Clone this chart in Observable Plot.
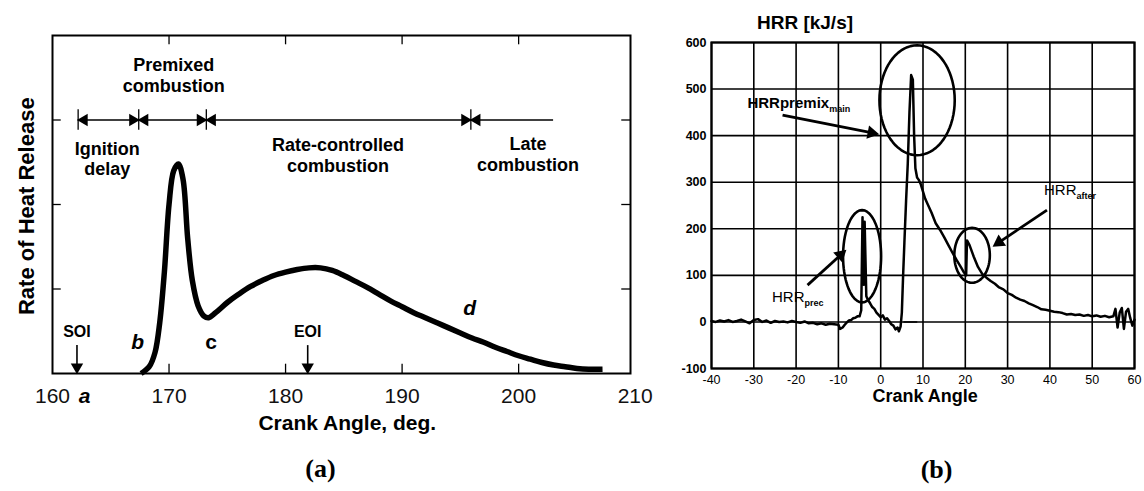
<!DOCTYPE html>
<html><head><meta charset="utf-8">
<script src="https://cdn.jsdelivr.net/npm/d3@7"></script>
<script src="https://cdn.jsdelivr.net/npm/@observablehq/plot@0.6"></script>
<style>
body{margin:0;background:#fff;width:1144px;height:491px;overflow:hidden;position:relative;font-family:"Liberation Sans",Arial,sans-serif}
#a{position:absolute;left:0;top:0}
#b{position:absolute;left:660px;top:0}
svg{overflow:visible}
</style></head><body><div id="a"></div><div id="b"></div>
<script>
// ---------- Panel (a): schematic rate of heat release ----------
const aAngle = [167.6,168.3,168.8,169.2,169.6,170.0,170.4,170.8,171.2,171.6,172.0,172.5,173.0,173.4,174.0,175.0,176.0,177.0,178.0,179.0,180.0,181.0,182.0,183.0,184.0,185.0,186.0,187.0,188.0,189.0,190.0,191.0,192.0,193.0,194.0,195.0,196.0,197.0,198.0,199.0,200.0,201.0,202.0,203.0,204.0,205.0,206.0,207.2];
const aRate  = [0.0,0.08,0.25,0.6,1.2,2.0,2.4,2.48,2.3,1.6,1.1,0.8,0.68,0.66,0.72,0.84,0.94,1.03,1.1,1.16,1.2,1.23,1.25,1.25,1.22,1.16,1.09,1.02,0.94,0.86,0.79,0.72,0.66,0.6,0.54,0.48,0.42,0.37,0.31,0.26,0.21,0.17,0.13,0.1,0.08,0.06,0.05,0.05];
const aTickLabels = [160,170,180,190,200,210];
const aInnerTicksX = [170,180,190,200];
const aInnerTicksY = [1,2,3];
const phaseBars = [162.2,167.4,173.2,195.9];
const phaseRowLevel = 3;
const phaseRowEnd = 203.0;
const phaseLeftHeads = [162.2,167.4,173.2,195.9];
const phaseRightHeads = [167.4,173.2,195.9];
const phaseNames = ["Premixed\ncombustion","Ignition\ndelay","Rate-controlled\ncombustion","Late\ncombustion"];
const phaseNameX = [170.4,164.7,184.5,200.8];
const phaseNameY = [3.53,2.545,2.585,2.6];
const injNames = ["SOI","EOI"];
const injAngle = [162.1,181.9];
const pointNames = ["b","d"];
const pointX = [167.3,195.8];
const pointY = [0.37,0.77];

// ---------- Panel (b): measured HRR ----------
const bAngle = [-40,-39,-38,-37,-36,-35,-34,-33,-32,-31,-30,-29,-28,-27,-26,-25,-24,-23,-22,-21,-20,-19,-18,-17,-16,-15,-14,-13,-12,-11,-10,-9.6,-9.0,-8.5,-8.0,-7.5,-7.0,-6.5,-6.0,-5.5,-5.0,-4.6,-4.3,-4.0,-3.8,-3.4,-3.0,-2.5,-2.0,-1.5,-1.0,-0.5,0.0,0.5,1.0,1.5,2.0,2.5,3.0,3.5,4.0,4.3,4.7,5.0,5.3,5.6,6.0,6.4,6.8,7.2,7.6,7.9,8.2,8.6,9.0,9.5,10.0,10.5,11.0,12.0,13.0,14.0,15.0,16.0,17.0,18.0,19.0,19.7,20.2,20.4,21.0,22.0,23.0,24.0,25.0,26.0,27.0,28.0,29.0,30.0,31.0,32.0,33.0,34.0,35.0,36.0,37.0,38.0,39.0,40.0,41.0,42.0,43.0,44.0,45.0,46.0,47.0,48.0,49.0,50.0,51.0,52.0,53.0,54.0,55.0,55.5,56.0,56.5,57.0,57.5,58.0,58.5,59.0,59.5,60.0];
const bHRR = [2,0,3,1,4,0,2,5,1,-3,4,6,0,3,-2,2,0,1,-1,2,0,-2,1,-3,-2,-5,-3,-6,-4,-5,-6,-15,-12,-6,-1,3,4,8,9,12,12,25,225,80,215,55,47,40,32,28,20,15,10,14,5,8,2,-5,-8,-16,-12,-20,-10,20,100,170,260,340,450,530,520,400,330,310,305,295,280,265,255,235,212,198,182,165,148,132,117,106,100,175,165,140,118,103,95,88,82,74,70,62,58,52,48,45,40,36,32,27,26,24,22,21,19,16,17,15,16,13,15,12,14,11,13,10,12,28,-12,20,30,-15,22,28,8,-8,5];
const bBaseAngle = [5.5,8.5];
const bBaseHRR = [0,0];
const bTicksX = [-40,-30,-20,-10,0,10,20,30,40,50,60];
const bTicksY = [-100,0,100,200,300,400,500,600];
const ringCx = [8.6,-4.4,21.6];
const ringCy = [476,141,143];
const ringRx = [8.9,4.5,4.2];
const ringRy = [118,99,59];
const pointerFromX = [-23.2,-17.3,39.3];
const pointerFromY = [444,79,240];
const pointerToX = [-1.0,-8.6,27.0];
const pointerToY = [404,151,165];
const hrrNames = ["HRRpremix","HRR","HRR"];
const hrrSubs = ["main","prec","after"];
const hrrX = [-31.5,-25.7,38.6];
const hrrY = [469,54,283];

const FONT = '"Liberation Sans", Arial, Helvetica, sans-serif';
const SERIF = '"Liberation Serif", "Times New Roman", serif';

// ----- build panel (a)
const curveA = aAngle.map((x,i)=>({x, y:aRate[i]}));
const plotA = Plot.plot({
  width:660, height:491, marginLeft:52, marginRight:30, marginTop:35, marginBottom:118,
  x:{domain:[160,209.6], axis:null},
  y:{domain:[0,4], axis:null},
  style:{fontFamily:FONT, background:"white", color:"black", overflow:"visible"},
  marks:[
    Plot.frame({stroke:"black", strokeWidth:2}),
    Plot.ruleX(aInnerTicksX, {y1:0, y2:0.11, stroke:"black", strokeWidth:1.3}),
    Plot.ruleX(aInnerTicksX, {y1:3.89, y2:4, stroke:"black", strokeWidth:1.3}),
    Plot.ruleY(aInnerTicksY, {x1:160, x2:160.75, stroke:"black", strokeWidth:1.3}),
    Plot.ruleY(aInnerTicksY, {x1:208.85, x2:209.6, stroke:"black", strokeWidth:1.3}),
    Plot.text(aTickLabels, {x:d=>d, y:0, dy:23, text:d=>String(d), fontSize:21, fill:"#111"}),
    Plot.text(["a"], {x:[162.75], y:[0], dy:23, text:d=>d, fontSize:21, fontWeight:"bold", fontStyle:"italic"}),
    Plot.text(["Crank Angle, deg."], {x:[185.3], y:[-0.59], text:d=>d, fontSize:21, fontWeight:"bold"}),
    Plot.text(["(a)"], {x:[183], y:[-1.13], text:d=>d, fontSize:26, fontWeight:"bold", fontFamily:SERIF}),
    Plot.text(["Rate of Heat Release"], {x:[157.85], y:[1.98], text:d=>d, rotate:-90, fontSize:22, fontWeight:"bold"}),
    // phase row
    Plot.ruleY([phaseRowLevel], {x1:phaseBars[0], x2:phaseRowEnd, stroke:"black", strokeWidth:1.3}),
    Plot.ruleX(phaseBars, {y1:phaseRowLevel-0.12, y2:phaseRowLevel+0.12, stroke:"black", strokeWidth:1.3}),
    Plot.dot(phaseLeftHeads, {x:d=>d, y:phaseRowLevel, symbol:"triangle", rotate:-90, r:4.6, fill:"black", stroke:"none", dx:6}),
    Plot.dot(phaseRightHeads, {x:d=>d, y:phaseRowLevel, symbol:"triangle", rotate:90, r:4.6, fill:"black", stroke:"none", dx:-6}),
    Plot.text(phaseNames, {x:(d,i)=>phaseNameX[i], y:(d,i)=>phaseNameY[i], text:d=>d, fontSize:18, fontWeight:"bold", lineHeight:1.15}),
    // injection markers
    Plot.ruleX(injAngle, {y1:0.06, y2:0.33, stroke:"black", strokeWidth:1.6}),
    Plot.dot(injAngle, {x:d=>d, y:0.075, symbol:"triangle", rotate:180, r:4.6, fill:"black", stroke:"none"}),
    Plot.text(injNames, {x:(d,i)=>injAngle[i], y:0.49, text:d=>d, fontSize:16, fontWeight:"bold"}),
    Plot.text(pointNames, {x:(d,i)=>pointX[i], y:(d,i)=>pointY[i], text:d=>d, fontSize:21, fontWeight:"bold", fontStyle:"italic"}),
    Plot.text(["c"], {x:[173.6], y:[0.37], text:d=>d, fontSize:21, fontWeight:"bold"}),
    // curve
    Plot.line(curveA, {x:"x", y:"y", stroke:"black", strokeWidth:5.5, curve:"catmull-rom", strokeLinecap:"butt"})
  ]
});
document.getElementById("a").append(plotA);

// ----- build panel (b)
const bWidth = 484, bHeight = 491, bML = 51, bMR = 10, bMT = 42, bMB = 123;
const sx = Plot.scale({x:{domain:[-40,60], range:[bML, bWidth-bMR]}});
const sy = Plot.scale({y:{domain:[-100,600], range:[bHeight-bMB, bMT]}});
const curveB = bAngle.map((x,i)=>({x, y:bHRR[i]}));
const baseB = bBaseAngle.map((x,i)=>({x, y:bBaseHRR[i]}));
const rings = [];
ringCx.forEach((cx,k)=>{
  for (let j=0;j<=72;j++){ const t=j/72*2*Math.PI; rings.push({k, x:cx+ringRx[k]*Math.cos(t), y:ringCy[k]+ringRy[k]*Math.sin(t)}); }
});
// pointer shafts and filled heads (heads oriented along each shaft in screen space)
const pointers = pointerFromX.map((x1,i)=>{
  const px1=sx.apply(x1), py1=sy.apply(pointerFromY[i]), px2=sx.apply(pointerToX[i]), py2=sy.apply(pointerToY[i]);
  const len=Math.hypot(px2-px1,py2-py1), ang=Math.atan2(py2-py1,px2-px1)*180/Math.PI;
  const t=1-5/len;
  return {x1, y1:pointerFromY[i], x2:pointerToX[i], y2:pointerToY[i],
          hx:x1+(pointerToX[i]-x1)*t, hy:pointerFromY[i]+(pointerToY[i]-pointerFromY[i])*t, rot:ang+90,
          sx2:x1+(pointerToX[i]-x1)*(1-8/len), sy2:pointerFromY[i]+(pointerToY[i]-pointerFromY[i])*(1-8/len)};
});
const plotB = Plot.plot({
  width:bWidth, height:bHeight, marginLeft:bML, marginRight:bMR, marginTop:bMT, marginBottom:bMB,
  x:{domain:[-40,60], axis:null},
  y:{domain:[-100,600], axis:null},
  style:{fontFamily:FONT, background:"white", color:"black", overflow:"visible"},
  marks:[
    Plot.ruleX(bTicksX, {stroke:"black", strokeWidth:1.6}),
    Plot.ruleY(bTicksY, {stroke:"black", strokeWidth:1.6}),
    Plot.frame({stroke:"black", strokeWidth:2.2}),
    Plot.text(bTicksY, {x:-40, y:d=>d, dx:-5, text:d=>String(d), textAnchor:"end", fontSize:12.5, fontWeight:"bold"}),
    Plot.text(bTicksX, {x:d=>d, y:-100, dy:11, text:d=>String(d), fontSize:12.5}),
    Plot.text(["Crank Angle"], {x:[10.5], y:[-159], text:d=>d, fontSize:18, fontWeight:"bold"}),
    Plot.text(["HRR [kJ/s]"], {x:[-17.9], y:[643], text:d=>d, fontSize:19, fontWeight:"bold"}),
    Plot.text(["(b)"], {x:[13.2], y:[-317], text:d=>d, fontSize:26, fontWeight:"bold", fontFamily:SERIF}),
    Plot.line(rings, {x:"x", y:"y", z:"k", stroke:"black", strokeWidth:2.6}),
    Plot.link(pointers, {x1:"x1", y1:"y1", x2:"sx2", y2:"sy2", stroke:"black", strokeWidth:2.8}),
    Plot.dot(pointers, {x:"hx", y:"hy", rotate:"rot", symbol:"triangle", r:5, fill:"black", stroke:"none"}),
    Plot.line(baseB, {x:"x", y:"y", stroke:"black", strokeWidth:1.6}),
    Plot.line(curveB, {x:"x", y:"y", stroke:"black", strokeWidth:2.5, curve:"linear"}),
    Plot.text(hrrNames.slice(0,1), {x:[hrrX[0]], y:[hrrY[0]], text:d=>d, textAnchor:"start", fontSize:15, fontWeight:"bold", className:"subbold"}),
    Plot.text(hrrNames.slice(1), {x:hrrX.slice(1), y:hrrY.slice(1), text:d=>d, textAnchor:"start", fontSize:15, className:"subreg"})
  ]
});
document.getElementById("b").append(plotB);
const subsBold = hrrSubs.slice(0,1), subsReg = hrrSubs.slice(1);
d3.select(plotB).selectAll("g.subbold text").each(function(d,i){
  d3.select(this).append("tspan").attr("dy",4).attr("font-size",9).attr("font-weight","bold").text(subsBold[i]);
});
d3.select(plotB).selectAll("g.subreg text").each(function(d,i){
  d3.select(this).append("tspan").attr("dy",4).attr("font-size",9).attr("font-weight","bold").text(subsReg[i]);
});
</script></body></html>
